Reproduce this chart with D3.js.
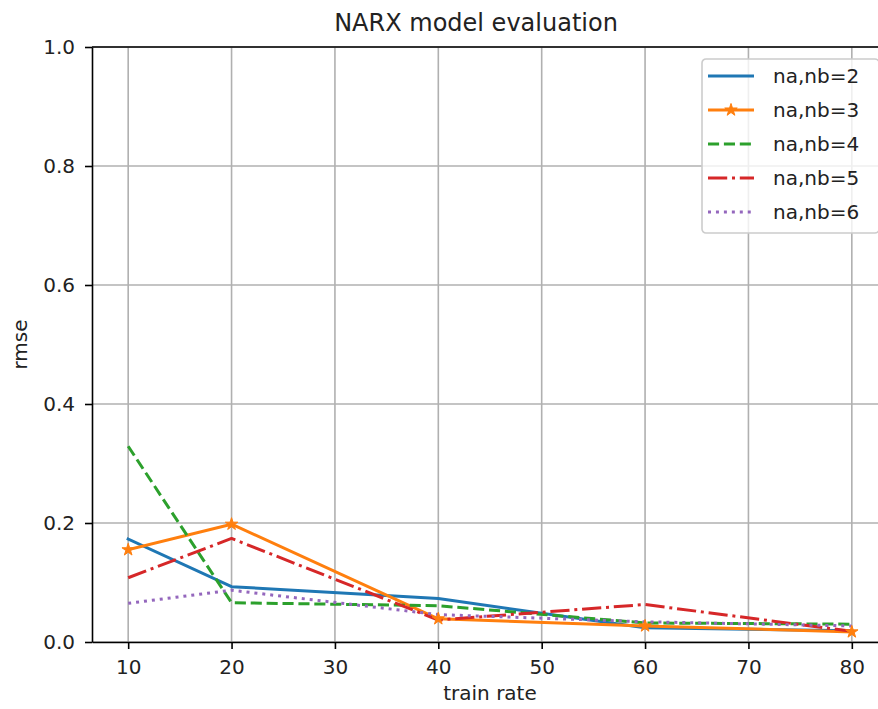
<!DOCTYPE html>
<html>
<head>
<meta charset="utf-8">
<script src="https://cdn.jsdelivr.net/npm/d3@7"></script>
<style>
  html, body { margin: 0; padding: 0; background: #ffffff; }
  svg { display: block; font-family: "DejaVu Sans", sans-serif; }
</style>
</head>
<body>
<svg id="chart" width="878" height="709"></svg>
<script>
// ---- data ----
const trainRate = [10, 20, 40, 60, 80];
const seriesNames = ["na,nb=2", "na,nb=3", "na,nb=4", "na,nb=5", "na,nb=6"];
const nb2 = [0.173, 0.093, 0.073, 0.024, 0.019];
const nb3 = [0.155, 0.198, 0.039, 0.027, 0.017];
const nb4 = [0.329, 0.066, 0.061, 0.032, 0.030];
const nb5 = [0.108, 0.174, 0.037, 0.063, 0.018];
const nb6 = [0.065, 0.087, 0.046, 0.034, 0.027];
const xTicks = [10, 20, 30, 40, 50, 60, 70, 80];
const yTicks = [0.0, 0.2, 0.4, 0.6, 0.8, 1.0];

const colors = ["#1f77b4", "#ff7f0e", "#2ca02c", "#d62728", "#9467bd"];
const dashes = [null, null, "11.1,4.8", "19.2,4.8,3,4.8", "3,4.95"];
const seriesValues = [nb2, nb3, nb4, nb5, nb6];

// ---- layout ----
const margin = { left: 92, top: 47, right: 888, bottom: 642 };
const svg = d3.select("#chart");

const x = d3.scaleLinear().domain([6.5, 83.5]).range([margin.left, margin.right]);
const y = d3.scaleLinear().domain([0, 1]).range([margin.bottom, margin.top]);

// grid
const grid = svg.append("g");
grid.selectAll("line.gx").data(xTicks).join("line")
  .attr("x1", d => x(d)).attr("x2", d => x(d))
  .attr("y1", margin.top).attr("y2", margin.bottom)
  .attr("stroke", "#b0b0b0").attr("stroke-width", 1.6);
grid.selectAll("line.gy").data(yTicks).join("line")
  .attr("x1", margin.left).attr("x2", margin.right)
  .attr("y1", d => y(d)).attr("y2", d => y(d))
  .attr("stroke", "#b0b0b0").attr("stroke-width", 1.6);

// series lines
const line = d3.line().x((d, i) => x(trainRate[i])).y(d => y(d));
seriesValues.forEach((vals, k) => {
  const p = svg.append("path")
    .datum(vals)
    .attr("d", line)
    .attr("fill", "none")
    .attr("stroke", colors[k])
    .attr("stroke-width", 3)
    .attr("stroke-linejoin", "round")
    .attr("stroke-linecap", dashes[k] ? "butt" : "square");
  if (dashes[k]) p.attr("stroke-dasharray", dashes[k]);
});

// star markers for series 2
const star = d3.symbol().type(d3.symbolStar).size(48);
svg.append("g").selectAll("path").data(nb3).join("path")
  .attr("d", star)
  .attr("transform", (d, i) => `translate(${x(trainRate[i])},${y(d)})`)
  .attr("fill", colors[1]).attr("stroke", colors[1]).attr("stroke-width", 1);

// axes
const xAxis = d3.axisBottom(x).tickValues(xTicks).tickFormat(d3.format("d"))
  .tickSize(7).tickPadding(11).tickSizeOuter(0);
const yAxis = d3.axisLeft(y).tickValues(yTicks).tickFormat(d3.format(".1f"))
  .tickSize(7).tickPadding(10).tickSizeOuter(0);

const gx = svg.append("g").attr("transform", `translate(0,${margin.bottom})`).call(xAxis);
const gy = svg.append("g").attr("transform", `translate(${margin.left},0)`).call(yAxis);
[gx, gy].forEach(g => {
  g.selectAll("text").attr("font-size", 20).attr("fill", "#222").attr("font-family", "DejaVu Sans");
  g.selectAll("line").attr("stroke", "#000").attr("stroke-width", 1.6);
  g.select(".domain").attr("stroke", "#000").attr("stroke-width", 1.6);
});
// top spine
svg.append("line")
  .attr("x1", margin.left).attr("x2", margin.right)
  .attr("y1", margin.top).attr("y2", margin.top)
  .attr("stroke", "#000").attr("stroke-width", 1.6);
// right spine (outside visible area)
svg.append("line")
  .attr("x1", margin.right).attr("x2", margin.right)
  .attr("y1", margin.top).attr("y2", margin.bottom)
  .attr("stroke", "#000").attr("stroke-width", 1.6);

// title & labels
svg.append("text").attr("x", 476).attr("y", 31)
  .attr("text-anchor", "middle").attr("font-size", 24).attr("fill", "#222")
  .text("NARX model evaluation");
svg.append("text").attr("x", (margin.left + margin.right) / 2).attr("y", 700)
  .attr("text-anchor", "middle").attr("font-size", 20).attr("fill", "#222")
  .text("train rate");
svg.append("text")
  .attr("transform", `translate(27,${(margin.top + margin.bottom) / 2}) rotate(-90)`)
  .attr("text-anchor", "middle").attr("font-size", 20).attr("fill", "#222")
  .text("rmse");

// legend
const leg = svg.append("g").attr("transform", "translate(702,59)");
leg.append("rect").attr("x", 0).attr("y", 0).attr("width", 177).attr("height", 174)
  .attr("rx", 4).attr("fill", "#fff").attr("fill-opacity", 0.8)
  .attr("stroke", "#cccccc").attr("stroke-width", 1.6);
const rowY = d3.scaleLinear().domain([0, 4]).range([17, 153]);
seriesNames.forEach((name, k) => {
  const ry = rowY(k);
  const l = leg.append("line").attr("x1", 6).attr("x2", 52).attr("y1", ry).attr("y2", ry)
    .attr("stroke", colors[k]).attr("stroke-width", 3);
  if (dashes[k]) l.attr("stroke-dasharray", dashes[k]);
  if (k === 1) {
    leg.append("path").attr("d", star).attr("transform", `translate(29,${ry})`)
      .attr("fill", colors[1]).attr("stroke", colors[1]).attr("stroke-width", 1);
  }
  leg.append("text").attr("x", 71).attr("y", ry).attr("dy", "0.35em")
    .attr("font-size", 20).attr("fill", "#222").text(name);
});
</script>
</body>
</html>
